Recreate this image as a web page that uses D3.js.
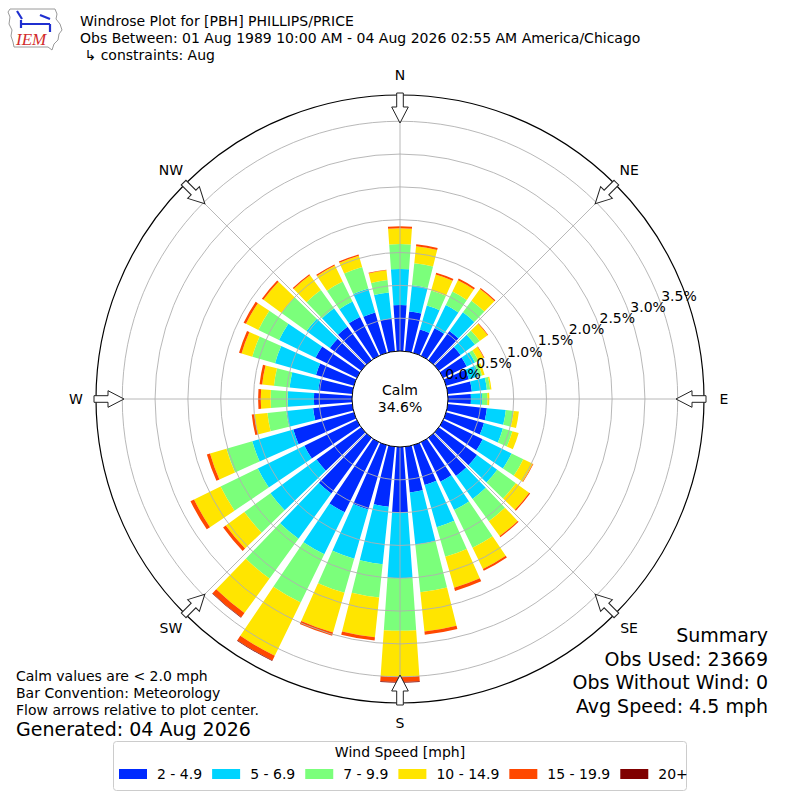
<!DOCTYPE html>
<html>
<head>
<meta charset="utf-8">
<script src="https://cdn.jsdelivr.net/npm/d3@7"></script>
<style>
  body { margin: 0; background: #fff; }
  svg { font-family: "DejaVu Sans", sans-serif; }
</style>
</head>
<body>
<svg id="chart" width="800" height="800"></svg>
<script>
// wind directions (deg, meteorological) and percent of obs per speed bin
const directions = [0, 10, 20, 30, 40, 50, 60, 70, 80, 90, 100, 110, 120, 130, 140, 150, 160, 170,
  180, 190, 200, 210, 220, 230, 240, 250, 260, 270, 280, 290, 300, 310, 320, 330, 340, 350];
const speedBins = ["2 - 4.9", "5 - 6.9", "7 - 9.9", "10 - 14.9", "15 - 19.9", "20+"];
const binColors = ["#002aff", "#00d4ff", "#7bff7b", "#ffe500", "#ff4800", "#800000"];

const pct2to5 = [0.70, 0.61, 0.37, 0.47, 0.55, 0.41, 0.40, 0.36, 0.37, 0.35, 0.60, 0.60,
  0.67, 0.72, 0.72, 0.67, 0.63, 0.70, 1.00, 0.92, 1.02, 1.19, 1.05, 0.84,
  0.89, 0.96, 0.60, 0.58, 0.52, 0.60, 0.70, 0.59, 0.63, 0.66, 0.64, 0.50];
const pct5to7 = [0.55, 0.40, 0.38, 0.39, 0.35, 0.27, 0.14, 0.16, 0.23, 0.17, 0.29, 0.30,
  0.49, 0.38, 0.43, 0.48, 0.67, 0.80, 1.00, 0.88, 0.78, 0.71, 0.85, 0.87,
  0.79, 0.65, 0.41, 0.40, 0.44, 0.65, 0.62, 0.44, 0.35, 0.26, 0.38, 0.40];
const pct7to10 = [0.38, 0.34, 0.24, 0.23, 0.22, 0.09, 0.06, 0.05, 0.05, 0.08, 0.12, 0.15,
  0.20, 0.35, 0.42, 0.64, 0.47, 0.73, 0.80, 0.51, 0.54, 0.82, 0.75, 0.49,
  0.63, 0.41, 0.29, 0.26, 0.24, 0.36, 0.35, 0.47, 0.34, 0.34, 0.34, 0.19];
const pct10to15 = [0.24, 0.26, 0.25, 0.19, 0.22, 0.15, 0.09, 0.04, 0.02, 0.03, 0.08, 0.10,
  0.16, 0.25, 0.28, 0.36, 0.49, 0.60, 0.70, 0.61, 0.63, 0.90, 0.65, 0.35,
  0.45, 0.26, 0.20, 0.15, 0.18, 0.17, 0.21, 0.34, 0.28, 0.27, 0.18, 0.15];
const pct15to20 = [0.03, 0.03, 0.03, 0.03, 0.02, 0.01, 0.01, 0.00, 0.00, 0.00, 0.00, 0.00,
  0.01, 0.02, 0.02, 0.03, 0.05, 0.05, 0.08, 0.05, 0.05, 0.08, 0.08, 0.05,
  0.06, 0.05, 0.04, 0.04, 0.04, 0.04, 0.04, 0.03, 0.02, 0.02, 0.02, 0.01];
const pct20up = [0, 0, 0, 0, 0, 0, 0, 0, 0, 0, 0, 0,
  0, 0, 0, 0, 0, 0, 0.01, 0, 0, 0.01, 0.01, 0,
  0, 0, 0, 0, 0, 0, 0, 0, 0, 0, 0, 0];

const ringTicks = [0, 0.5, 1.0, 1.5, 2.0, 2.5, 3.0, 3.5];
const compassLabels = ["N", "NE", "E", "SE", "S", "SW", "W", "NW"];
const compassAngles = [0, 45, 90, 135, 180, 225, 270, 315];
const calmPct = "34.6%";

const titleLines = [
  "Windrose Plot for [PBH] PHILLIPS/PRICE",
  "Obs Between: 01 Aug 1989 10:00 AM - 04 Aug 2026 02:55 AM America/Chicago",
  " \u21b3 constraints: Aug"
];
const noteLines = ["Calm values are < 2.0 mph", "Bar Convention: Meteorology", "Flow arrows relative to plot center."];
const generatedText = "Generated: 04 Aug 2026";
const summaryLines = ["Summary", "Obs Used: 23669", "Obs Without Wind: 0", "Avg Speed: 4.5 mph"];

const cx = 400, cy = 399, outerR = 304, calmR = 48;
const small = 14, big = 19;
const svg = d3.select("#chart");
const rad = d => d * Math.PI / 180;

const r = d3.scaleLinear().domain([0, 3.9]).range([calmR, outerR]);

const seriesData = [pct2to5, pct5to7, pct7to10, pct10to15, pct15to20, pct20up];
const table = directions.map((dir, i) => {
  const row = { dir };
  speedBins.forEach((k, j) => { row[k] = seriesData[j][i]; });
  return row;
});
const stacked = d3.stack().keys(speedBins)(table);
const color = d3.scaleOrdinal().domain(speedBins).range(binColors);

const plot = svg.append("g").attr("transform", `translate(${cx},${cy})`);

// bars
const arc = d3.arc()
  .innerRadius(d => r(d[0]))
  .outerRadius(d => r(d[1]))
  .startAngle(d => rad(d.data.dir - 4))
  .endAngle(d => rad(d.data.dir + 4));

plot.selectAll("g.bin")
  .data(stacked)
  .join("g")
  .attr("class", "bin")
  .attr("fill", s => color(s.key))
  .selectAll("path")
  .data(s => s.filter(d => d[1] - d[0] > 0))
  .join("path")
  .attr("d", arc);

// grid (drawn over the bars like the original)
plot.selectAll("circle.ring")
  .data(ringTicks.slice(1))
  .join("circle")
  .attr("class", "ring")
  .attr("r", d => r(d))
  .attr("fill", "none")
  .attr("stroke", "#b0b0b0")
  .attr("stroke-width", 0.9);

plot.selectAll("line.spoke")
  .data(compassAngles)
  .join("line")
  .attr("class", "spoke")
  .attr("x1", a => calmR * Math.sin(rad(a)))
  .attr("y1", a => -calmR * Math.cos(rad(a)))
  .attr("x2", a => outerR * Math.sin(rad(a)))
  .attr("y2", a => -outerR * Math.cos(rad(a)))
  .attr("stroke", "#b0b0b0")
  .attr("stroke-width", 0.9);

plot.append("circle")
  .attr("r", outerR)
  .attr("fill", "none")
  .attr("stroke", "#000")
  .attr("stroke-width", 1.2);

plot.append("circle")
  .attr("r", calmR)
  .attr("fill", "#fff")
  .attr("stroke", "#000")
  .attr("stroke-width", 1);

plot.append("text")
  .attr("text-anchor", "middle")
  .attr("y", -4)
  .attr("font-size", small)
  .text("Calm");
plot.append("text")
  .attr("text-anchor", "middle")
  .attr("y", 13)
  .attr("font-size", small)
  .text(calmPct);

// ring labels
const labelAngle = rad(70);
plot.selectAll("text.rlabel")
  .data(ringTicks)
  .join("text")
  .attr("class", "rlabel")
  .attr("x", d => r(d) * Math.sin(labelAngle) + 18)
  .attr("y", d => -r(d) * Math.cos(labelAngle) - 8.5)
  .attr("text-anchor", "middle")
  .attr("dominant-baseline", "central")
  .attr("font-size", small)
  .text(d => d.toFixed(1) + "%");

// compass labels
plot.selectAll("text.compass")
  .data(compassLabels)
  .join("text")
  .attr("class", "compass")
  .attr("x", (d, i) => 324 * Math.sin(rad(compassAngles[i])))
  .attr("y", (d, i) => -324 * Math.cos(rad(compassAngles[i])))
  .attr("text-anchor", "middle")
  .attr("dominant-baseline", "central")
  .attr("font-size", small)
  .text(d => d);

// flow arrows pointing at the center
const arrowShape = [[-3.3, 0], [3.3, 0], [3.3, 14], [8.3, 14], [0, 30], [-8.3, 14], [-3.3, 14]];
plot.selectAll("path.arrow")
  .data(compassAngles)
  .join("path")
  .attr("class", "arrow")
  .attr("d", "M" + arrowShape.join("L") + "Z")
  .attr("transform", a => `rotate(${a}) translate(0,${-(outerR + 2)})`)
  .attr("fill", "#fff")
  .attr("stroke", "#222")
  .attr("stroke-width", 1);

// header
svg.selectAll("text.title")
  .data(titleLines)
  .join("text")
  .attr("class", "title")
  .attr("x", 80)
  .attr("y", (d, i) => 26 + i * 17)
  .attr("font-size", small)
  .style("white-space", "pre")
  .text(d => d);

// IEM logo
const logo = svg.append("g");
logo.append("path")
  .attr("d", "M10,9L55,9L57,14L56,19L60,24L62,30L59,34L58,40L54,44L52,50L48,47L14,47L13,42L11,36L12,30L9,24L10,17L8,12Z")
  .attr("fill", "none")
  .attr("stroke", "#9a9a9a")
  .attr("stroke-width", 1);
logo.append("path")
  .attr("d", "M21,24L50,24M21,20L21,28M50,24L50,32M17,11L22,19M40,15L50,19")
  .attr("stroke", "#1f2fd0")
  .attr("stroke-width", 2.2)
  .attr("fill", "none");
logo.append("text")
  .attr("x", 16)
  .attr("y", 45)
  .attr("font-family", "Liberation Serif, serif")
  .attr("font-style", "italic")
  .attr("font-size", 17)
  .attr("fill", "#d22b2b")
  .text("IEM");

// footnotes
svg.selectAll("text.note")
  .data(noteLines)
  .join("text")
  .attr("class", "note")
  .attr("x", 16)
  .attr("y", (d, i) => 681 + i * 17)
  .attr("font-size", small)
  .text(d => d);
svg.append("text")
  .attr("x", 16)
  .attr("y", 736)
  .attr("font-size", big)
  .text(generatedText);

svg.selectAll("text.summary")
  .data(summaryLines)
  .join("text")
  .attr("class", "summary")
  .attr("x", 768)
  .attr("y", (d, i) => 642 + i * 23.6)
  .attr("text-anchor", "end")
  .attr("font-size", big)
  .text(d => d);

// legend
const legend = svg.append("g");
legend.append("rect")
  .attr("x", 113.5).attr("y", 741.5)
  .attr("width", 573).attr("height", 49)
  .attr("rx", 3)
  .attr("fill", "#fff")
  .attr("stroke", "#cccccc");
legend.append("text")
  .attr("x", 400).attr("y", 757)
  .attr("text-anchor", "middle")
  .attr("font-size", small)
  .text("Wind Speed [mph]");

let lx = 119;
speedBins.forEach(k => {
  legend.append("rect")
    .attr("x", lx).attr("y", 769)
    .attr("width", 28).attr("height", 10)
    .attr("fill", color(k));
  const t = legend.append("text")
    .attr("x", lx + 38).attr("y", 779)
    .attr("font-size", small)
    .text(k);
  lx += 38 + t.node().getComputedTextLength() + 10;
});
</script>
</body>
</html>
